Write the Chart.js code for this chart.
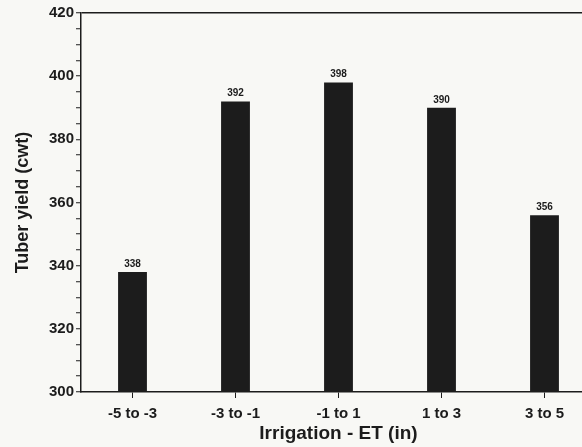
<!DOCTYPE html>
<html>
<head>
<meta charset="utf-8">
<script src="https://cdn.jsdelivr.net/npm/chart.js@4.4.1/dist/chart.umd.min.js"></script>
<style>
  html, body { margin: 0; padding: 0; background: #f8f8f5; overflow: hidden; }
  #wrap { width: 600px; height: 447px; }
</style>
</head>
<body>
<div id="wrap"><canvas id="chart"></canvas></div>
<script>
// Dados
const categories = ['-5 to -3', '-3 to -1', '-1 to 1', '1 to 3', '3 to 5'];
const yieldValues = [338, 392, 398, 390, 356];
const majorTicks = [300, 320, 340, 360, 380, 400, 420];

const ink = '#1c1c1c';
const fontFamily = '"Liberation Sans", Arial, sans-serif';

// valores acima das barras
const barLabels = {
  id: 'barLabels',
  afterDatasetsDraw(chart) {
    const ctx = chart.ctx;
    const meta = chart.getDatasetMeta(0);
    ctx.save();
    ctx.fillStyle = ink;
    ctx.font = 'bold 10px ' + fontFamily;
    ctx.textAlign = 'center';
    ctx.textBaseline = 'bottom';
    meta.data.forEach((bar, i) => {
      ctx.fillText(yieldValues[i], bar.x, bar.y - 3);
    });
    ctx.restore();
  }
};

const ctxBar = document.getElementById('chart').getContext('2d');
const barChart = new Chart(ctxBar, {
  type: 'bar',
  data: {
    labels: categories,
    datasets: [{
      data: yieldValues,
      backgroundColor: ink,
      borderWidth: 0,
      barPercentage: 0.28,
      categoryPercentage: 1
    }]
  },
  options: {
    responsive: true,
    maintainAspectRatio: false,
    animation: false,
    layout: { padding: { left: 12, top: 13, right: 4, bottom: 0 } },
    plugins: {
      legend: { display: false },
      tooltip: { enabled: false }
    },
    scales: {
      x: {
        afterFit: (s) => { s.height = 55; },
        grid: {
          offset: false,
          drawOnChartArea: false,
          tickLength: 6,
          tickColor: ink,
          tickWidth: 1
        },
        border: { color: ink, width: 1.5 },
        ticks: {
          color: ink,
          padding: 7,
          font: { family: fontFamily, size: 15, weight: 'bold' }
        },
        title: {
          display: true,
          text: 'Irrigation - ET (in)',
          color: ink,
          padding: { top: 0, bottom: 2 },
          font: { family: fontFamily, size: 19, weight: 'bold' }
        }
      },
      y: {
        min: 300,
        max: 420,
        afterFit: (s) => { s.width = 69; },
        grid: {
          drawOnChartArea: true,
          color: (c) => (c.tick && c.tick.value === 420 ? ink : 'transparent'),
          lineWidth: 1.5,
          tickLength: 5,
          tickColor: ink,
          tickWidth: 1
        },
        border: { color: ink, width: 1.5 },
        ticks: {
          stepSize: 5,
          autoSkip: false,
          color: ink,
          padding: 2,
          callback: (v) => (majorTicks.includes(v) ? v : ''),
          font: { family: fontFamily, size: 15, weight: 'bold' }
        },
        title: {
          display: true,
          text: 'Tuber yield (cwt)',
          color: ink,
          padding: { top: 0, bottom: 4 },
          font: { family: fontFamily, size: 18, weight: 'bold' }
        }
      }
    }
  },
  plugins: [barLabels]
});
</script>
</body>
</html>
